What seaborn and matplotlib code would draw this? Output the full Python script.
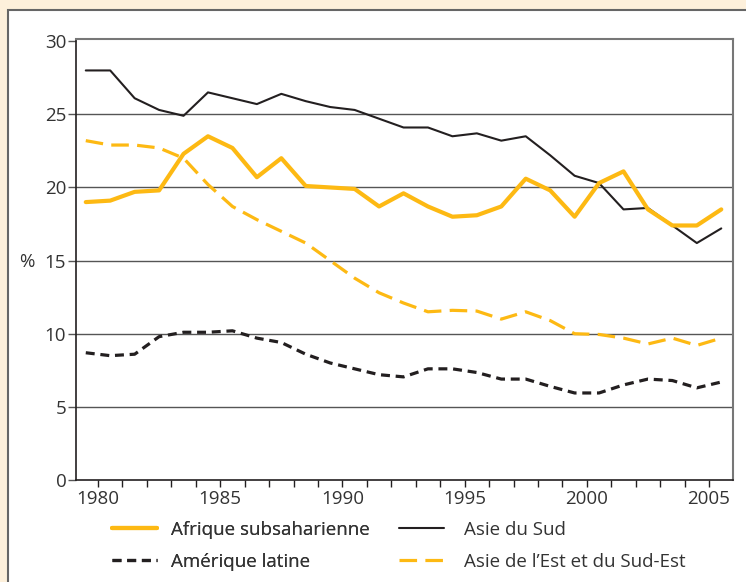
import numpy as np
import pandas as pd
import matplotlib
matplotlib.use("Agg")
import matplotlib.pyplot as plt
from matplotlib.patches import Rectangle
from matplotlib.lines import Line2D
import seaborn as sns

# Données (part en %, 1979-2005)
annees = list(range(1979, 2006))
afrique_subsaharienne = [19.0, 19.1, 19.7, 19.8, 22.3, 23.5, 22.7, 20.7, 22.0, 20.1,
                         20.0, 19.9, 18.7, 19.6, 18.7, 18.0, 18.1, 18.7, 20.6, 19.8,
                         18.0, 20.3, 21.1, 18.5, 17.4, 17.4, 18.5]
asie_du_sud = [28.0, 28.0, 26.1, 25.3, 24.9, 26.5, 26.1, 25.7, 26.4, 25.9,
               25.5, 25.3, 24.7, 24.1, 24.1, 23.5, 23.7, 23.2, 23.5, 22.2,
               20.8, 20.3, 18.5, 18.6, 17.4, 16.2, 17.2]
amerique_latine = [8.7, 8.5, 8.6, 9.8, 10.1, 10.1, 10.2, 9.7, 9.4, 8.6,
                   8.0, 7.6, 7.2, 7.05, 7.6, 7.6, 7.35, 6.9, 6.9, 6.4,
                   5.95, 5.95, 6.5, 6.9, 6.8, 6.3, 6.7]
asie_est = [23.2, 22.9, 22.9, 22.7, 22.0, 20.2, 18.7, 17.8, 17.0, 16.2,
            15.0, 13.8, 12.8, 12.1, 11.5, 11.6, 11.55, 11.0, 11.5, 10.9,
            10.0, 9.95, 9.7, 9.3, 9.7, 9.2, 9.7]

x_ticks = [1980, 1985, 1990, 1995, 2000, 2005]
y_ticks = [0, 5, 10, 15, 20, 25, 30]

ORANGE = "#FDB913"
NOIR = "#231F20"
TEXTE = "#333333"

sns.set_theme(style="white")
plt.rcParams["font.family"] = ["Open Sans", "DejaVu Sans"]

df = pd.DataFrame({
    "annee": np.array(annees) + 0.5,  # valeurs placées en milieu d'année
    "Afrique subsaharienne": afrique_subsaharienne,
    "Asie du Sud": asie_du_sud,
    "Amérique latine": amerique_latine,
    "Asie de l'Est et du Sud-Est": asie_est,
})

fig = plt.figure(figsize=(7.46, 5.82), dpi=100)
fig.patch.set_facecolor("#FDF0DB")
fig.add_artist(Rectangle((8 / 746, -0.05), 1.0, 1 - 10 / 582 + 0.05,
                         transform=fig.transFigure, facecolor="white",
                         edgecolor="#666666", linewidth=1.5, zorder=0))

ax = fig.add_axes([76 / 746, 1 - 480 / 582, (733 - 76) / 746, (480 - 39) / 582])
ax.set_facecolor("white")

for y in [5, 10, 15, 20, 25]:
    ax.axhline(y, color="#555555", linewidth=1.0, zorder=1)

styles = {
    "Asie de l'Est et du Sud-Est": dict(color=ORANGE, linewidth=2.3, linestyle=(0, (5.5, 2.6))),
    "Amérique latine": dict(color=NOIR, linewidth=2.3, linestyle=(0, (2.8, 1.8))),
    "Asie du Sud": dict(color=NOIR, linewidth=1.5, linestyle="-"),
    "Afrique subsaharienne": dict(color=ORANGE, linewidth=3.0, linestyle="-"),
}
for nom, st in styles.items():
    sns.lineplot(data=df, x="annee", y=nom, ax=ax, zorder=3, **st)

ax.set_xlim(1979.1, 2005.98)
ax.set_ylim(0, 30.15)
ax.set_xticks(x_ticks)
ax.set_xticks(range(1980, 2006), minor=True)
ax.set_yticks(y_ticks)
ax.set_xticklabels([str(t) for t in x_ticks])
ax.set_yticklabels([str(t) for t in y_ticks])
ax.set_xlabel("")
ax.set_ylabel("")
ax.tick_params(axis="x", which="both", direction="out", length=5, width=1,
               color=NOIR, bottom=True, labelsize=13.5, labelcolor=TEXTE, pad=2)
ax.tick_params(axis="y", direction="out", length=6, width=1, color="#555555",
               left=True, labelsize=13.5, labelcolor=TEXTE, pad=1)

for s in ["left", "bottom"]:
    ax.spines[s].set_color(NOIR)
    ax.spines[s].set_linewidth(1.2)
for s in ["top", "right"]:
    ax.spines[s].set_color("#777777")
    ax.spines[s].set_linewidth(1.5)

fig.text(27 / 746, 1 - 262 / 582, "%", fontsize=13.5, color=TEXTE,
         ha="center", va="center")

def poignee(nom):
    return Line2D([], [], **styles[nom])

leg1 = fig.legend([poignee("Afrique subsaharienne"), poignee("Amérique latine")],
                  ["Afrique subsaharienne", "Amérique latine"],
                  loc="upper left", bbox_to_anchor=(95 / 746, 1 - 504 / 582),
                  frameon=False, fontsize=13.5, handlelength=2.4,
                  handletextpad=0.75, labelspacing=0.75, labelcolor=TEXTE)
fig.add_artist(leg1)
fig.legend([poignee("Asie du Sud"), poignee("Asie de l'Est et du Sud-Est")],
           ["Asie du Sud", "Asie de l\u2019Est et du Sud-Est"],
           loc="upper left", bbox_to_anchor=(382 / 746, 1 - 504 / 582),
           frameon=False, fontsize=13.5, handlelength=2.4,
           handletextpad=1.1, labelspacing=0.75, labelcolor=TEXTE)

fig.savefig("out.png", dpi=100, facecolor=fig.get_facecolor())
